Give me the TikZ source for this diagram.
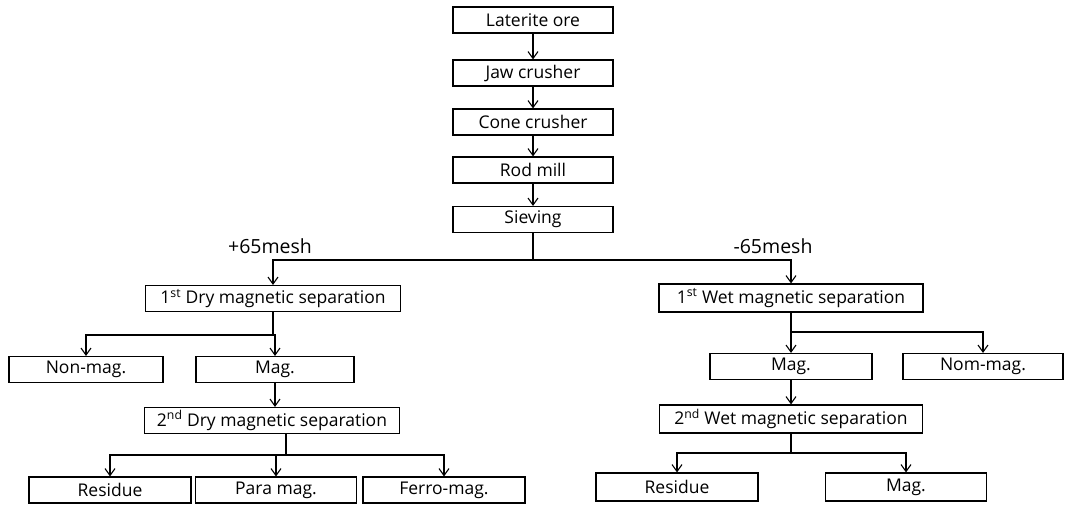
\documentclass[tikz,border=0pt]{standalone}
\usepackage{fontspec}
\setmainfont{Open Sans}
\usetikzlibrary{arrows.meta}

\begin{document}
\begin{tikzpicture}
	[x=1pt, y=-1pt, line width=1.1pt,
	 box/.style={draw, minimum height=26pt, inner sep=0pt, font=\fontsize{17.5}{19}\selectfont},
	 flow/.style={-{Straight Barb[length=7pt,width=10pt]}},
	 mesh/.style={font=\fontsize{19.5}{21}\selectfont}]
	\useasboundingbox (0,0) rectangle (1066,507);
	% main line
	\node[box, minimum width=160pt] (ore)   at (533,20)  {Laterite ore};
	\node[box, minimum width=160pt] (jaw)   at (533,73)  {Jaw crusher};
	\node[box, minimum width=160pt] (cone)  at (533,122) {Cone crusher};
	\node[box, minimum width=160pt] (rod)   at (533,170) {Rod mill};
	\node[box, minimum width=160pt] (sieve) at (533,219.5) {Sieving};
	\node[mesh] (plus)  at (270,246) {+65mesh};
	\node[mesh] (minus) at (773,246) {-65mesh};
	% dry branch
	\node[box, minimum width=255pt] (dry1) at (273,298.5) {1\textsuperscript{st} Dry magnetic separation};
	\node[box, minimum width=154pt] (nonmag1) at (86,369.5) {Non-mag.};
	\node[box, minimum width=158pt] (mag1) at (275,369.5) {Mag.};
	\node[box, minimum width=255pt] (dry2) at (272,420.5) {2\textsuperscript{nd} Dry magnetic separation};
	\node[box, minimum width=162pt] (res1)  at (110,490) {Residue};
	\node[box, minimum width=161pt] (para)  at (276,490) {Para mag.};
	\node[box, minimum width=162pt] (ferro) at (444,490) {Ferro-mag.};
	% wet branch
	\node[box, minimum width=264pt, minimum height=28pt] (wet1) at (791,298) {1\textsuperscript{st} Wet magnetic separation};
	\node[box, minimum width=162pt] (mag2) at (791,366.5) {Mag.};
	\node[box, minimum width=160pt] (nonmag2) at (983,366.5) {Nom-mag.};
	\node[box, minimum width=263pt, minimum height=28pt] (wet2) at (791,419) {2\textsuperscript{nd} Wet magnetic separation};
	\node[box, minimum width=162pt, minimum height=28pt] (res2) at (677,487) {Residue};
	\node[box, minimum width=161pt, minimum height=28pt] (mag3) at (906,487) {Mag.};
	% junctions
	\coordinate (split) at (533,260);
	\coordinate (j1) at (273,335);
	\coordinate (j2) at (286,455);
	\coordinate (j3) at (791,332);
	\coordinate (j4) at (791,453);
	\draw[flow] (ore) -- (jaw);
	\draw[flow] (jaw) -- (cone);
	\draw[flow] (cone) -- (rod);
	\draw[flow] (rod) -- (sieve);
	\draw (sieve) -- (split);
	\draw[flow] (split) -| (dry1);
	\draw[flow] (split) -| (wet1);
	\draw (dry1) -- (j1);
	\draw[flow] (j1) -| (nonmag1);
	\draw[flow] (j1) -| (mag1);
	\draw[flow] (mag1) -- (mag1 |- dry2.north);
	\draw (dry2.south -| j2) -- (j2);
	\draw[flow] (j2) -| (res1);
	\draw[flow] (j2) -| (para);
	\draw[flow] (j2) -| (ferro);
	\draw (wet1) -- (j3);
	\draw[flow] (j3) -| (mag2);
	\draw[flow] (j3) -| (nonmag2);
	\draw[flow] (mag2) -- (wet2);
	\draw (wet2) -- (j4);
	\draw[flow] (j4) -| (res2);
	\draw[flow] (j4) -| (mag3);
\end{tikzpicture}
\end{document}
